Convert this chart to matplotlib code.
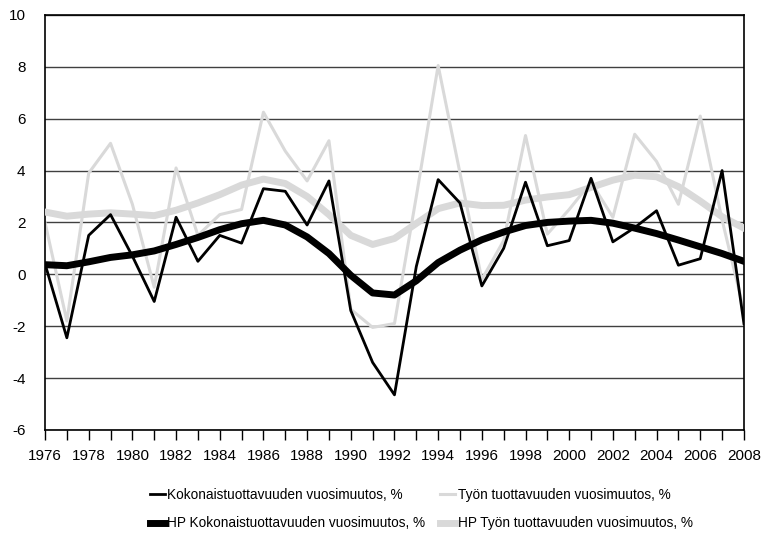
import numpy as np
import matplotlib
matplotlib.use("Agg")
import matplotlib.pyplot as plt

# ============================
# Data
# ============================

years = list(range(1976, 2009))

tfp_change = [0.4, -2.45, 1.5, 2.3, 0.7, -1.05, 2.2, 0.5, 1.5, 1.2,
              3.3, 3.2, 1.9, 3.6, -1.4, -3.4, -4.65, 0.3, 3.65, 2.75,
              -0.45, 1.0, 3.55, 1.1, 1.3, 3.7, 1.25, 1.8, 2.45, 0.35,
              0.6, 4.0, -1.9]

labour_change = [2.0, -1.8, 3.9, 5.05, 2.7, -0.5, 4.1, 1.5, 2.3, 2.5,
                 6.25, 4.75, 3.6, 5.15, -1.35, -2.05, -1.9, 3.0, 8.05, 3.9,
                 -0.2, 1.3, 5.35, 1.55, 2.5, 3.55, 2.2, 5.4, 4.35, 2.7,
                 6.1, 2.1, -1.4]

hp_tfp = [0.37, 0.33, 0.48, 0.65, 0.75, 0.9, 1.15, 1.42, 1.72, 1.95,
          2.08, 1.9, 1.44, 0.8, -0.04, -0.72, -0.8, -0.25, 0.45, 0.93,
          1.33, 1.63, 1.88, 2.0, 2.05, 2.08, 1.97, 1.78, 1.57, 1.32,
          1.06, 0.8, 0.5]

hp_labour = [2.4, 2.24, 2.32, 2.37, 2.32, 2.26, 2.47, 2.75, 3.07, 3.44,
             3.67, 3.5, 3.0, 2.3, 1.5, 1.15, 1.38, 1.96, 2.53, 2.75,
             2.65, 2.66, 2.86, 2.98, 3.07, 3.35, 3.63, 3.82, 3.76, 3.38,
             2.82, 2.22, 1.78]

labels = ["Kokonaistuottavuuden vuosimuutos, %",
          "Työn tuottavuuden vuosimuutos, %",
          "HP Kokonaistuottavuuden vuosimuutos, %",
          "HP Työn tuottavuuden vuosimuutos, %"]

# ============================
# Plot
# ============================

plt.rcParams["font.family"] = ["Liberation Sans", "DejaVu Sans"]
plt.rcParams["axes.unicode_minus"] = False

fig = plt.figure(figsize=(7.63, 5.34), dpi=100)
ax = fig.add_axes([0.059, 0.195, 0.916, 0.777])

grey = "#d9d9d9"
l2, = ax.plot(years, labour_change, color=grey, lw=2.2, zorder=2)
l4, = ax.plot(years, hp_labour, color=grey, lw=5, zorder=3)
l3, = ax.plot(years, hp_tfp, color="black", lw=5, zorder=4)
l1, = ax.plot(years, tfp_change, color="black", lw=2, zorder=5)

ax.set_xlim(1976, 2008)
ax.set_ylim(-6, 10)
ax.set_yticks(np.arange(-6, 11, 2))
ax.set_xticks(years, minor=True)
ax.set_xticks(range(1976, 2009, 2))

ax.grid(axis="y", color="#404040", lw=1)
ax.set_axisbelow(True)
for s in ax.spines.values():
    s.set_color("black")
    s.set_linewidth(1.2)

ax.tick_params(axis="y", length=0, pad=14, labelsize=11)
ax.tick_params(axis="x", which="both", length=7, width=1, direction="out",
               pad=7, labelsize=11)

fig.legend([l1, l3, l2, l4], [labels[0], labels[2], labels[1], labels[3]],
           ncol=2, loc="lower left", bbox_to_anchor=(0.18, -0.016),
           frameon=False, fontsize=9.8, handlelength=1.1, handletextpad=0.2,
           columnspacing=1.1, labelspacing=1.05)

plt.savefig("out.png", dpi=100)
plt.close()
